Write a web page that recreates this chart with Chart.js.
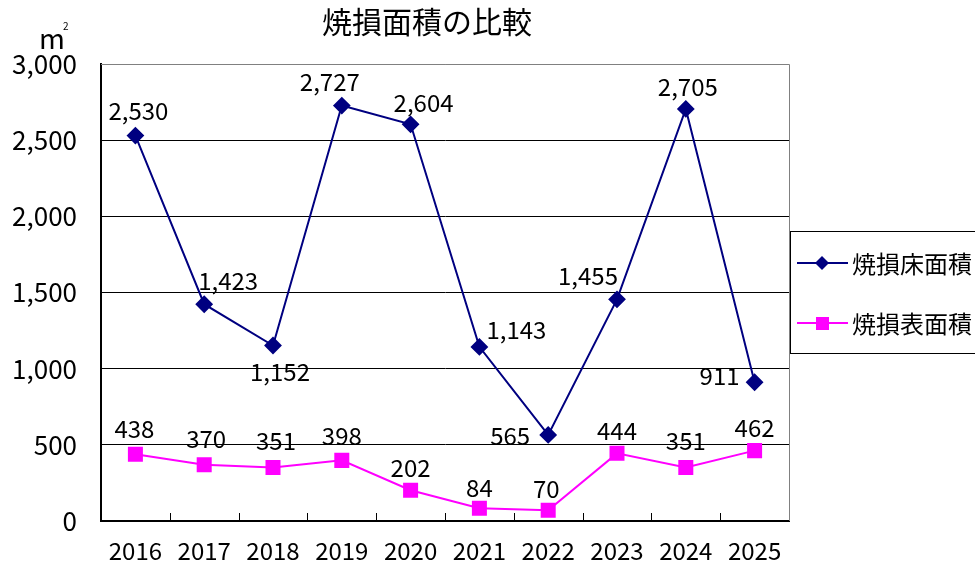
<!DOCTYPE html>
<html>
<head>
<meta charset="utf-8">
<script src="https://cdn.jsdelivr.net/npm/chart.js@4.4.1/dist/chart.umd.min.js"></script>
<style>
    html, body { margin: 0; padding: 0; background: #fff; }
    #wrap { width: 975px; height: 568px; }
</style>
</head>
<body>
<div id="wrap"><canvas id="myChart"></canvas></div>
<script>
var years = ['2016', '2017', '2018', '2019', '2020', '2021', '2022', '2023', '2024', '2025'];
var yukaMenseki = [2530, 1423, 1152, 2727, 2604, 1143, 565, 1455, 2705, 911];
var hyoMenseki = [438, 370, 351, 398, 202, 84, 70, 444, 351, 462];
var seriesNames = ['焼損床面積', '焼損表面積'];
var yTicks = [0, 500, 1000, 1500, 2000, 2500, 3000];
var chartTitle = '焼損面積の比較';

var FONT = '"Noto Sans CJK JP", "Noto Sans", sans-serif';
var NAVY = '#000080';
var PINK = '#ff00ff';

// label offsets (dx, dy) per point, to mimic the original placement
var labelOffsets = [
    [[3, -25], [24, -23], [7, 26], [-12, -24], [13, -21], [37, -17], [-38, 1], [-29, -23], [2, -22], [-35, -6]],
    [[-1, -25], [2, -26], [3, -27], [0, -24], [0, -22], [0, -20], [-2, -21], [0, -22], [0, -27], [0, -23]]
];

function fmt(v) {
    return v.toLocaleString('en-US');
}

var decoPlugin = {
    id: 'deco',
    afterDraw: function (chart) {
        var ctx = chart.ctx;
        var area = chart.chartArea;
        var xs = chart.scales.x;
        ctx.save();

        // top / right frame
        ctx.strokeStyle = '#808080';
        ctx.lineWidth = 1;
        ctx.beginPath();
        ctx.moveTo(area.left, area.top + 0.5);
        ctx.lineTo(area.right + 0.5, area.top + 0.5);
        ctx.lineTo(area.right + 0.5, area.bottom);
        ctx.stroke();

        // category tick marks pointing inward
        ctx.strokeStyle = '#000';
        ctx.beginPath();
        for (var i = 1; i < years.length; i++) {
            var tx = Math.round((xs.getPixelForTick(i - 1) + xs.getPixelForTick(i)) / 2) + 0.5;
            ctx.moveTo(tx, area.bottom);
            ctx.lineTo(tx, area.bottom - 8);
        }
        ctx.stroke();

        // data labels
        ctx.fillStyle = '#000';
        ctx.font = '24px ' + FONT;
        ctx.textAlign = 'center';
        ctx.textBaseline = 'middle';
        chart.data.datasets.forEach(function (ds, di) {
            var meta = chart.getDatasetMeta(di);
            meta.data.forEach(function (pt, i) {
                var off = labelOffsets[di][i];
                ctx.fillText(fmt(ds.data[i]), pt.x + off[0], pt.y + off[1]);
            });
        });

        // title
        ctx.font = '30px ' + FONT;
        ctx.fillText(chartTitle, 427, 22);

        // unit
        ctx.font = '28px ' + FONT;
        ctx.textAlign = 'left';
        ctx.fillText('m', 39, 38);
        ctx.font = '10px ' + FONT;
        ctx.fillText('2', 63, 26);

        // legend
        ctx.strokeStyle = '#000';
        ctx.lineWidth = 1;
        ctx.strokeRect(790.5, 231.5, 190, 122);
        var colors = [NAVY, PINK];
        var rowY = [263, 323];
        for (var k = 0; k < 2; k++) {
            ctx.strokeStyle = colors[k];
            ctx.fillStyle = colors[k];
            ctx.lineWidth = 2;
            ctx.beginPath();
            ctx.moveTo(797, rowY[k]);
            ctx.lineTo(848, rowY[k]);
            ctx.stroke();
            if (k === 0) {
                ctx.beginPath();
                ctx.moveTo(822, rowY[k] - 7);
                ctx.lineTo(829, rowY[k]);
                ctx.lineTo(822, rowY[k] + 7);
                ctx.lineTo(815, rowY[k]);
                ctx.closePath();
                ctx.fill();
            } else {
                ctx.fillRect(816, rowY[k] - 6, 13, 13);
            }
            ctx.fillStyle = '#000';
            ctx.font = '24px ' + FONT;
            ctx.textAlign = 'left';
            ctx.fillText(seriesNames[k], 852, rowY[k] + 1);
        }
        ctx.restore();
    }
};

var config = {
    type: 'line',
    data: {
        labels: years,
        datasets: [{
            label: seriesNames[0],
            data: yukaMenseki,
            borderColor: NAVY,
            backgroundColor: NAVY,
            borderWidth: 2,
            pointStyle: 'rectRot',
            pointRadius: 7.5,
            pointHoverRadius: 7.5,
            tension: 0
        }, {
            label: seriesNames[1],
            data: hyoMenseki,
            borderColor: PINK,
            backgroundColor: PINK,
            borderWidth: 2,
            pointStyle: 'rect',
            pointRadius: 9.2,
            pointHoverRadius: 9.2,
            tension: 0
        }]
    },
    options: {
        responsive: false,
        animation: false,
        devicePixelRatio: 1,
        layout: {
            padding: { top: 64, right: 186, bottom: 0, left: 0 }
        },
        plugins: {
            legend: { display: false },
            title: { display: false },
            tooltip: { enabled: false }
        },
        scales: {
            x: {
                offset: true,
                grid: { display: true, drawOnChartArea: false, drawTicks: false },
                border: { display: true, color: '#000', width: 2 },
                ticks: {
                    color: '#000',
                    font: { family: FONT, size: 24 },
                    padding: 15,
                    maxRotation: 0
                },
                afterFit: function (scale) { scale.height = 47; }
            },
            y: {
                min: 0,
                max: 3000,
                afterBuildTicks: function (scale) {
                    scale.ticks = yTicks.map(function (v) { return { value: v }; });
                },
                grid: {
                    color: function (c) { return c.tick && c.tick.value === 3000 ? '#808080' : '#000'; },
                    lineWidth: 1,
                    drawTicks: false
                },
                border: { display: true, color: '#000', width: 2 },
                ticks: {
                    color: '#000',
                    font: { family: FONT, size: 26 },
                    padding: 24,
                    callback: function (v) { return fmt(v); }
                },
                afterFit: function (scale) { scale.width = 101; }
            }
        }
    },
    plugins: [decoPlugin]
};

var canvas = document.getElementById('myChart');
canvas.width = 975;
canvas.height = 568;
var myChart = new Chart(canvas, config);
</script>
</body>
</html>
